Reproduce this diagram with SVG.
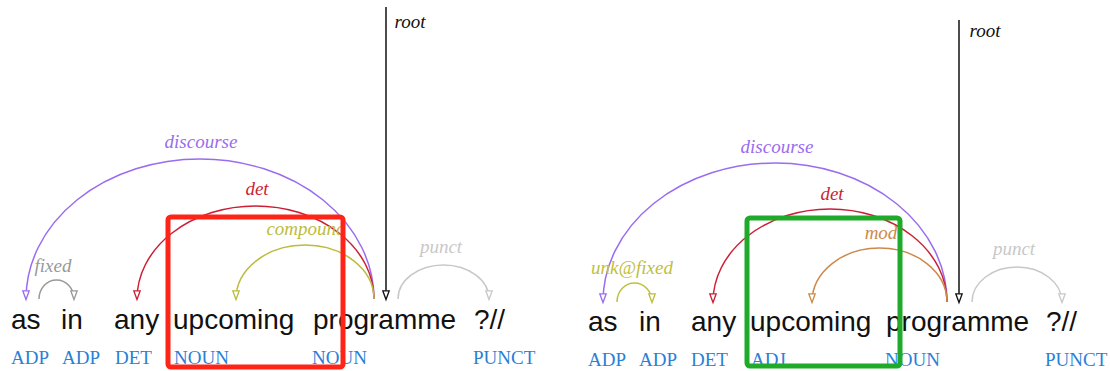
<svg xmlns="http://www.w3.org/2000/svg" width="1110" height="371" viewBox="0 0 1110 371">
  <style>
    .word { font-family: "Liberation Sans", Arial, sans-serif; font-size: 28px; fill: #111; }
    .pos { font-family: "Liberation Serif", "Times New Roman", serif; font-size: 19px; fill: #2a7fd6; }
    .lbl { font-family: "Liberation Serif", "Times New Roman", serif; font-size: 19px; font-style: italic; text-anchor: middle; }
    .arc { fill: none; stroke-width: 1.5; }
    .box { fill: none; stroke-width: 5; }
  </style>
  <defs>
    <marker id="ah-purple" markerUnits="userSpaceOnUse" viewBox="0 0 10 8" markerWidth="10" markerHeight="8" refX="9" refY="4" orient="auto" overflow="visible">
      <path d="M0.8,0.8 L9.5,4 L0.8,7.2 Z" fill="#fff" stroke="#9a6cf0" stroke-width="1.3"/>
    </marker>
    <marker id="ah-red" markerUnits="userSpaceOnUse" viewBox="0 0 10 8" markerWidth="10" markerHeight="8" refX="9" refY="4" orient="auto" overflow="visible">
      <path d="M0.8,0.8 L9.5,4 L0.8,7.2 Z" fill="#fff" stroke="#cc1f35" stroke-width="1.3"/>
    </marker>
    <marker id="ah-olive" markerUnits="userSpaceOnUse" viewBox="0 0 10 8" markerWidth="10" markerHeight="8" refX="9" refY="4" orient="auto" overflow="visible">
      <path d="M0.8,0.8 L9.5,4 L0.8,7.2 Z" fill="#fff" stroke="#bcbc3e" stroke-width="1.3"/>
    </marker>
    <marker id="ah-gray" markerUnits="userSpaceOnUse" viewBox="0 0 10 8" markerWidth="10" markerHeight="8" refX="9" refY="4" orient="auto" overflow="visible">
      <path d="M0.8,0.8 L9.5,4 L0.8,7.2 Z" fill="#fff" stroke="#999" stroke-width="1.3"/>
    </marker>
    <marker id="ah-light" markerUnits="userSpaceOnUse" viewBox="0 0 10 8" markerWidth="10" markerHeight="8" refX="9" refY="4" orient="auto" overflow="visible">
      <path d="M0.8,0.8 L9.5,4 L0.8,7.2 Z" fill="#fff" stroke="#c8c8c8" stroke-width="1.3"/>
    </marker>
    <marker id="ah-black" markerUnits="userSpaceOnUse" viewBox="0 0 10 8" markerWidth="10" markerHeight="8" refX="9" refY="4" orient="auto" overflow="visible">
      <path d="M0.8,0.8 L9.5,4 L0.8,7.2 Z" fill="#fff" stroke="#111" stroke-width="1.3"/>
    </marker>
    <marker id="ah-brown" markerUnits="userSpaceOnUse" viewBox="0 0 10 8" markerWidth="10" markerHeight="8" refX="9" refY="4" orient="auto" overflow="visible">
      <path d="M0.8,0.8 L9.5,4 L0.8,7.2 Z" fill="#fff" stroke="#cc8a4a" stroke-width="1.3"/>
    </marker>
  </defs>

  <!-- connectors: left parse -->
  <g id="connectors-left">
    <path class="arc" stroke="#9a6cf0" d="M374,299 A174,140 0 0 0 26,299" marker-end="url(#ah-purple)"/>
    <path class="arc" stroke="#cc1f35" d="M374,299 A118.5,93 0 0 0 137,299" marker-end="url(#ah-red)"/>
    <path class="arc" stroke="#bcbc3e" d="M374,299 A69,54 0 0 0 236,299" marker-end="url(#ah-olive)"/>
    <path class="arc" stroke="#999" d="M39,299 A17.5,19 0 0 1 74,299" marker-end="url(#ah-gray)"/>
    <path class="arc" stroke="#c8c8c8" d="M398,299 A45.5,34 0 0 1 489,299" marker-end="url(#ah-light)"/>
    <path class="arc" stroke="#111" d="M386,7 L386,299" marker-end="url(#ah-black)"/>
  </g>

  <!-- connectors: right parse -->
  <g id="connectors-right">
    <path class="arc" stroke="#9a6cf0" d="M947,302 A172,139 0 0 0 603,302" marker-end="url(#ah-purple)"/>
    <path class="arc" stroke="#cc1f35" d="M947,302 A117,93 0 0 0 713,302" marker-end="url(#ah-red)"/>
    <path class="arc" stroke="#cc8a4a" d="M947,302 A67.5,54 0 0 0 812,302" marker-end="url(#ah-brown)"/>
    <path class="arc" stroke="#c0c040" d="M617,302 A17.5,19 0 0 1 652,302" marker-end="url(#ah-olive)"/>
    <path class="arc" stroke="#c8c8c8" d="M972,302 A45,35 0 0 1 1062,302" marker-end="url(#ah-light)"/>
    <path class="arc" stroke="#111" d="M959,20 L959,302" marker-end="url(#ah-black)"/>
  </g>

  <!-- relation labels -->
  <g id="labels-left">
    <text class="lbl" x="201" y="148" fill="#9a6cf0">discourse</text>
    <text class="lbl" x="257" y="195" fill="#cc1f35">det</text>
    <text class="lbl" x="306" y="235" fill="#bcbc3e">compound</text>
    <text class="lbl" x="53" y="272" fill="#999">fixed</text>
    <text class="lbl" x="441" y="253" fill="#c8c8c8">punct</text>
    <text class="lbl" x="410" y="28" fill="#111">root</text>
  </g>
  <g id="labels-right">
    <text class="lbl" x="777" y="153" fill="#9a6cf0">discourse</text>
    <text class="lbl" x="832" y="200" fill="#cc1f35">det</text>
    <text class="lbl" x="881" y="239" fill="#cc8a4a">mod</text>
    <text class="lbl" x="632" y="274" fill="#c0c040">unk@fixed</text>
    <text class="lbl" x="1014" y="255" fill="#c8c8c8">punct</text>
    <text class="lbl" x="985" y="37" fill="#111">root</text>
  </g>

  <!-- tokens, left parse -->
  <g id="tok-as-l"><text class="word" x="11" y="329">as</text><text class="pos" x="11" y="364">ADP</text></g>
  <g id="tok-in-l"><text class="word" x="61" y="329">in</text><text class="pos" x="62" y="364">ADP</text></g>
  <g id="tok-any-l"><text class="word" x="114" y="329">any</text><text class="pos" x="115" y="364">DET</text></g>
  <g id="tok-upcoming-l"><text class="word" x="173" y="329">upcoming</text><text class="pos" x="174" y="364">NOUN</text></g>
  <g id="tok-programme-l"><text class="word" x="313" y="329">programme</text><text class="pos" x="312" y="364">NOUN</text></g>
  <g id="tok-punct-l"><text class="word" x="474" y="329">?//</text><text class="pos" x="473" y="364">PUNCT</text></g>

  <!-- tokens, right parse -->
  <g id="tok-as-r"><text class="word" x="588" y="331">as</text><text class="pos" x="588" y="366">ADP</text></g>
  <g id="tok-in-r"><text class="word" x="639" y="331">in</text><text class="pos" x="639" y="366">ADP</text></g>
  <g id="tok-any-r"><text class="word" x="691" y="331">any</text><text class="pos" x="691" y="366">DET</text></g>
  <g id="tok-upcoming-r"><text class="word" x="750" y="331">upcoming</text><text class="pos" x="751" y="366">ADJ</text></g>
  <g id="tok-programme-r"><text class="word" x="886" y="331">programme</text><text class="pos" x="885" y="366">NOUN</text></g>
  <g id="tok-punct-r"><text class="word" x="1046" y="331">?//</text><text class="pos" x="1045" y="366">PUNCT</text></g>

  <!-- highlight frames -->
  <g id="frame-left"><rect class="box" x="168" y="217" width="175" height="150" rx="3" stroke="#ff2418"/></g>
  <g id="frame-right"><rect class="box" x="747" y="218" width="153" height="148" rx="3" stroke="#1faa2a"/></g>
</svg>
